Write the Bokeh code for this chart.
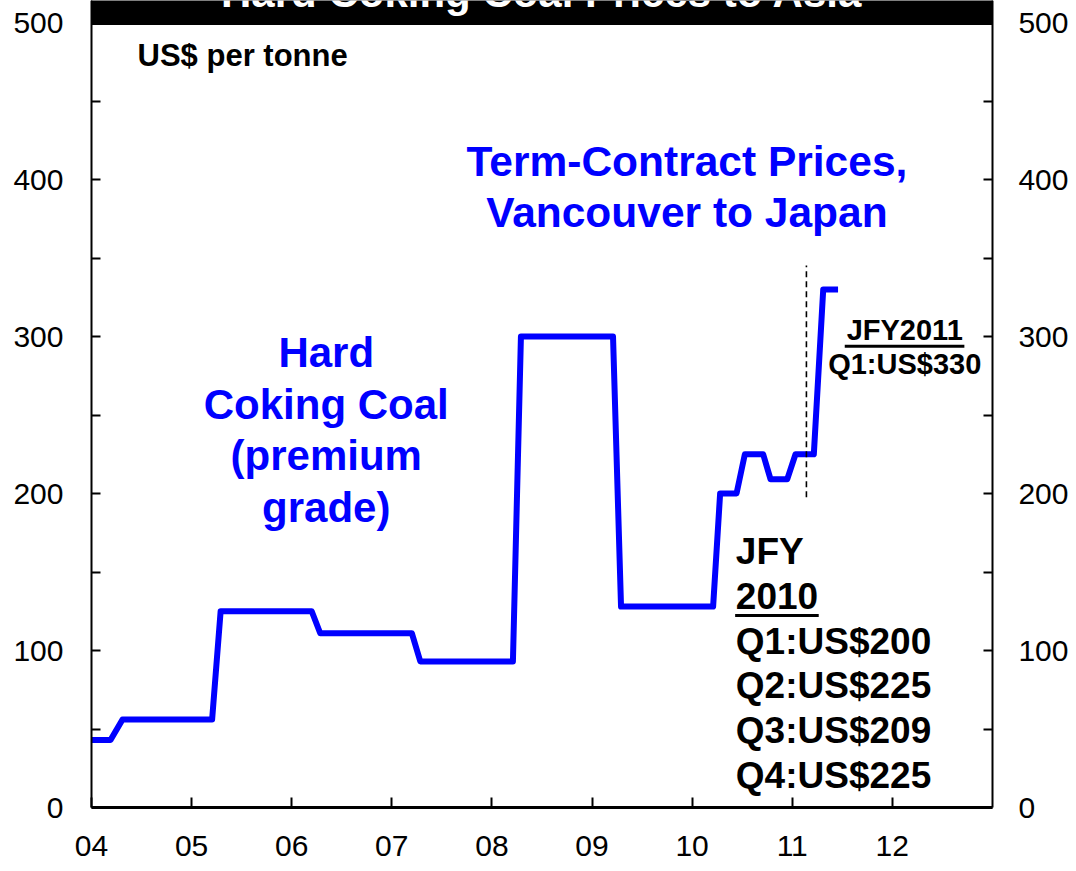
from bokeh.plotting import figure
from bokeh.models import Range1d, LinearAxis, FixedTicker, Label
from bokeh.embed import file_html
from bokeh.resources import INLINE

# ---- data ----
title_text = "Hard Coking Coal Prices to Asia"
price_dates = [2004.00, 2004.19, 2004.31, 2005.205, 2005.29, 2006.20, 2006.285,
               2007.20, 2007.285, 2008.21, 2008.29, 2009.21, 2009.29, 2010.21,
               2010.28, 2010.444, 2010.527, 2010.71, 2010.784, 2010.95, 2011.033,
               2011.216, 2011.31, 2011.458]
price_values = [43, 43, 56, 56, 125, 125, 111, 111, 93, 93, 300, 300, 128, 128,
                200, 200, 225, 225, 209, 209, 225, 225, 330, 330]
year_ticks = [2004, 2005, 2006, 2007, 2008, 2009, 2010, 2011, 2012]
year_labels = ["04", "05", "06", "07", "08", "09", "10", "11", "12"]
value_ticks = [0, 50, 100, 150, 200, 250, 300, 350, 400, 450, 500]
value_labels = ["0", "", "100", "", "200", "", "300", "", "400", "", "500"]
x_start, x_end = 2004, 2013
jfy2011_marker_x = 2011.142
jfy2011_marker_y = [197.6, 345.2]
jfy2010_lines = ["JFY", "2010", "Q1:US$200", "Q2:US$225", "Q3:US$209", "Q4:US$225"]
jfy2011_lines = ["JFY2011", "Q1:US$330"]
series_lines = ["Hard", "Coking Coal", "(premium", "grade)"]
source_lines = ["Term-Contract Prices,", "Vancouver to Japan"]
unit_text = "US$ per tonne"

FONT = "Liberation Sans"
BLUE = "#0000FF"

# layout helpers (pixel geometry)
CANVAS_W, CANVAS_H = 1068, 863
AXIS_LEFT_PX = 91.0        # pixel column of x_start
PX_PER_YEAR = 100.1
FRAME_BOTTOM_PX = 807.0    # pixel row of value 0
PX_PER_UNIT = 1.57
X_LO = x_start - AXIS_LEFT_PX / PX_PER_YEAR
X_HI = X_LO + CANVAS_W / PX_PER_YEAR
Y_TOP = FRAME_BOTTOM_PX / PX_PER_UNIT
Y_BOTTOM = -(CANVAS_H - FRAME_BOTTOM_PX) / PX_PER_UNIT


def y_for_baseline(baseline_px, font_px):
    """data y of a text anchored at its middle, whose baseline sits at baseline_px"""
    anchor = baseline_px - 0.35 * font_px
    return (FRAME_BOTTOM_PX - anchor) / PX_PER_UNIT


def y_px(py):
    return (FRAME_BOTTOM_PX - py) / PX_PER_UNIT


p = figure(width=CANVAS_W, height=CANVAS_H, title=None,
           x_range=Range1d(X_LO, X_HI), y_range=Range1d(Y_BOTTOM, Y_TOP),
           output_backend="svg", toolbar_location=None,
           min_border=0, outline_line_color=None,
           background_fill_color="white", border_fill_color="white")
p.grid.visible = False

# black title bar (its text is cut by the top edge, as in the reference)
p.quad(left=[x_start], right=[x_end], bottom=[y_px(24)], top=[Y_TOP + 20],
       color="black")
p.add_layout(Label(x=(x_start + x_end) / 2, y=y_for_baseline(7, 42), text=title_text,
                   text_color="white", text_font=FONT, text_font_style="bold",
                   text_font_size="42px", text_align="center",
                   text_baseline="middle"))

# price line
p.line(price_dates, price_values, line_color=BLUE, line_width=6, line_join="round")

# dashed marker
p.segment(x0=[jfy2011_marker_x], x1=[jfy2011_marker_x],
          y0=[jfy2011_marker_y[0]], y1=[jfy2011_marker_y[1]],
          line_color="black", line_width=1.6, line_dash="6 4")

# x axis, drawn at value 0
xa = p.xaxis[0]
xa.fixed_location = 0
xa.bounds = (x_start, x_end)
xa.ticker = FixedTicker(ticks=year_ticks)
xa.major_label_overrides = {t: l for t, l in zip(year_ticks, year_labels)}
xa.minor_tick_line_color = None
xa.major_tick_in = 10
xa.major_tick_out = 0
xa.major_tick_line_width = 2
xa.axis_line_width = 3
xa.major_label_standoff = 28
xa.major_label_text_font = FONT
xa.major_label_text_font_size = "30px"
xa.major_label_text_color = "black"

# value axes at both ends of the time range
ya = p.yaxis[0]
ya.fixed_location = x_start
ra = LinearAxis(fixed_location=x_end)
p.add_layout(ra, "right")
for ax, so in ((ya, 28), (ra, 26)):
    ax.bounds = (0, Y_TOP)
    ax.ticker = FixedTicker(ticks=value_ticks)
    ax.major_label_overrides = {t: l for t, l in zip(value_ticks, value_labels)}
    ax.minor_tick_line_color = None
    ax.major_tick_in = 9
    ax.major_tick_out = 0
    ax.major_tick_line_width = 2
    ax.axis_line_width = 2
    ax.major_label_standoff = so
    ax.major_label_text_font = FONT
    ax.major_label_text_font_size = "30px"
    ax.major_label_text_color = "black"


def label(x, baseline_px, text, size, color, align="left"):
    p.add_layout(Label(x=x, y=y_for_baseline(baseline_px, size), text=text,
                       text_font=FONT, text_font_style="bold",
                       text_font_size=f"{size}px", text_color=color,
                       text_align=align, text_baseline="middle"))


label(2004.46, 66, unit_text, 31, "black")

for i, t in enumerate(series_lines):
    label(2006.345, 367 + i * 51.4, t, 42, BLUE, "center")

for i, t in enumerate(source_lines):
    label(2009.948, 176 + i * 50.5, t, 42.5, BLUE, "center")

for i, t in enumerate(jfy2010_lines):
    label(2010.437, 564 + i * 44.75, t, 37, "black")
p.segment(x0=[2010.43], x1=[2011.265], y0=[y_px(615)], y1=[y_px(615)],
          line_color="black", line_width=3)

for i, t in enumerate(jfy2011_lines):
    label(2012.124, 340 + i * 34, t, 29, "black", "center")
p.segment(x0=[2011.525], x1=[2012.72], y0=[y_px(345.7)], y1=[y_px(345.7)],
          line_color="black", line_width=3)

open("out.html", "w").write(file_html(p, INLINE))
